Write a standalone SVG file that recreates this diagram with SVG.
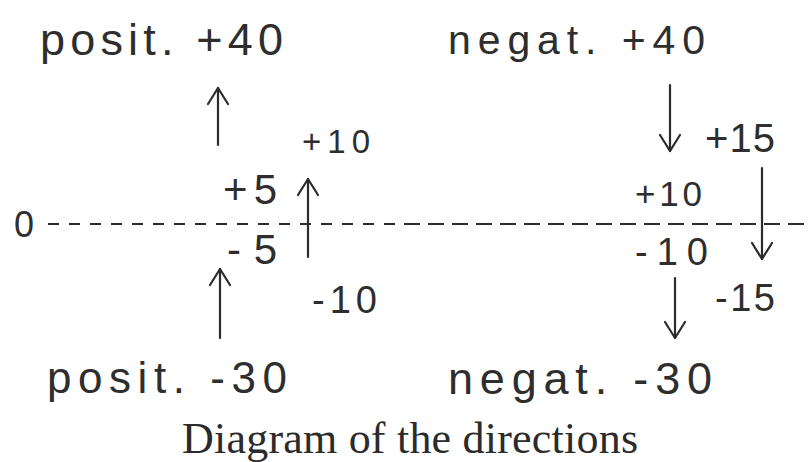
<svg xmlns="http://www.w3.org/2000/svg" width="810" height="462" viewBox="0 0 810 462">
<style>
.h{font-family:"Liberation Sans","DejaVu Sans",sans-serif;fill:#2e2e2e;}
.cap{font-family:"Liberation Serif","DejaVu Serif",serif;fill:#2b2b2b;font-size:44px;}
.arr{stroke:#2b2b2b;stroke-width:2.2;fill:none;stroke-linecap:round;marker-end:url(#v);}
.axis{stroke:#2b2b2b;stroke-width:2.2;fill:none;}
</style>
<defs>
<marker id="v" markerUnits="userSpaceOnUse" viewBox="-20 -14 24 28" refX="0" refY="0" markerWidth="24" markerHeight="28" orient="auto">
<path d="M-16,-10 L0,0 L-16,10" fill="none" stroke="#2b2b2b" stroke-width="2.2" stroke-linecap="round" stroke-linejoin="round"/>
</marker>
</defs>
<rect width="810" height="462" fill="#ffffff"/>
<g id="connectors">
<line class="axis" x1="48" y1="224" x2="400" y2="224" stroke-dasharray="11 10"/>
<line class="axis" x1="404" y1="224" x2="810" y2="224" stroke-dasharray="16 8"/>
<path class="arr" d="M218,145 L218,88"/>
<path class="arr" d="M308,257 L308,179"/>
<path class="arr" d="M220,338 L220,269"/>
<path class="arr" d="M670,85 L670,151"/>
<path class="arr" d="M762,168 L762,259"/>
<path class="arr" d="M675,278 L675,338"/>
</g>
<g id="origin"><text class="h" x="14" y="237" font-size="36">0</text></g>
<g id="posit-plus40"><text class="h" x="40" y="55" font-size="45" textLength="243" lengthAdjust="spacing">posit. +40</text></g>
<g id="negat-plus40"><text class="h" x="448" y="54" font-size="41" textLength="257" lengthAdjust="spacing">negat. +40</text></g>
<g id="posit-minus30"><text class="h" x="47" y="393" font-size="44" textLength="240" lengthAdjust="spacing">posit. -30</text></g>
<g id="negat-minus30"><text class="h" x="448" y="394" font-size="45" textLength="264" lengthAdjust="spacing">negat. -30</text></g>
<g id="l-plus10"><text class="h" x="302" y="153" font-size="33" textLength="68" lengthAdjust="spacing">+10</text></g>
<g id="l-plus5"><text class="h" x="223" y="204" font-size="42" textLength="54" lengthAdjust="spacing">+5</text></g>
<g id="l-minus5"><text class="h" x="227" y="264" font-size="42" textLength="50" lengthAdjust="spacing">-5</text></g>
<g id="l-minus10"><text class="h" x="312" y="313" font-size="38" textLength="65" lengthAdjust="spacing">-10</text></g>
<g id="r-plus15"><text class="h" x="705" y="152" font-size="40" textLength="70" lengthAdjust="spacing">+15</text></g>
<g id="r-plus10"><text class="h" x="635" y="206" font-size="35" textLength="67" lengthAdjust="spacing">+10</text></g>
<g id="r-minus10"><text class="h" x="635" y="265" font-size="38" textLength="73" lengthAdjust="spacing">-10</text></g>
<g id="r-minus15"><text class="h" x="715" y="311" font-size="38" textLength="60" lengthAdjust="spacing">-15</text></g>
<g id="caption"><text class="cap" x="182" y="453" textLength="456" lengthAdjust="spacing">Diagram of the directions</text></g>
</svg>
